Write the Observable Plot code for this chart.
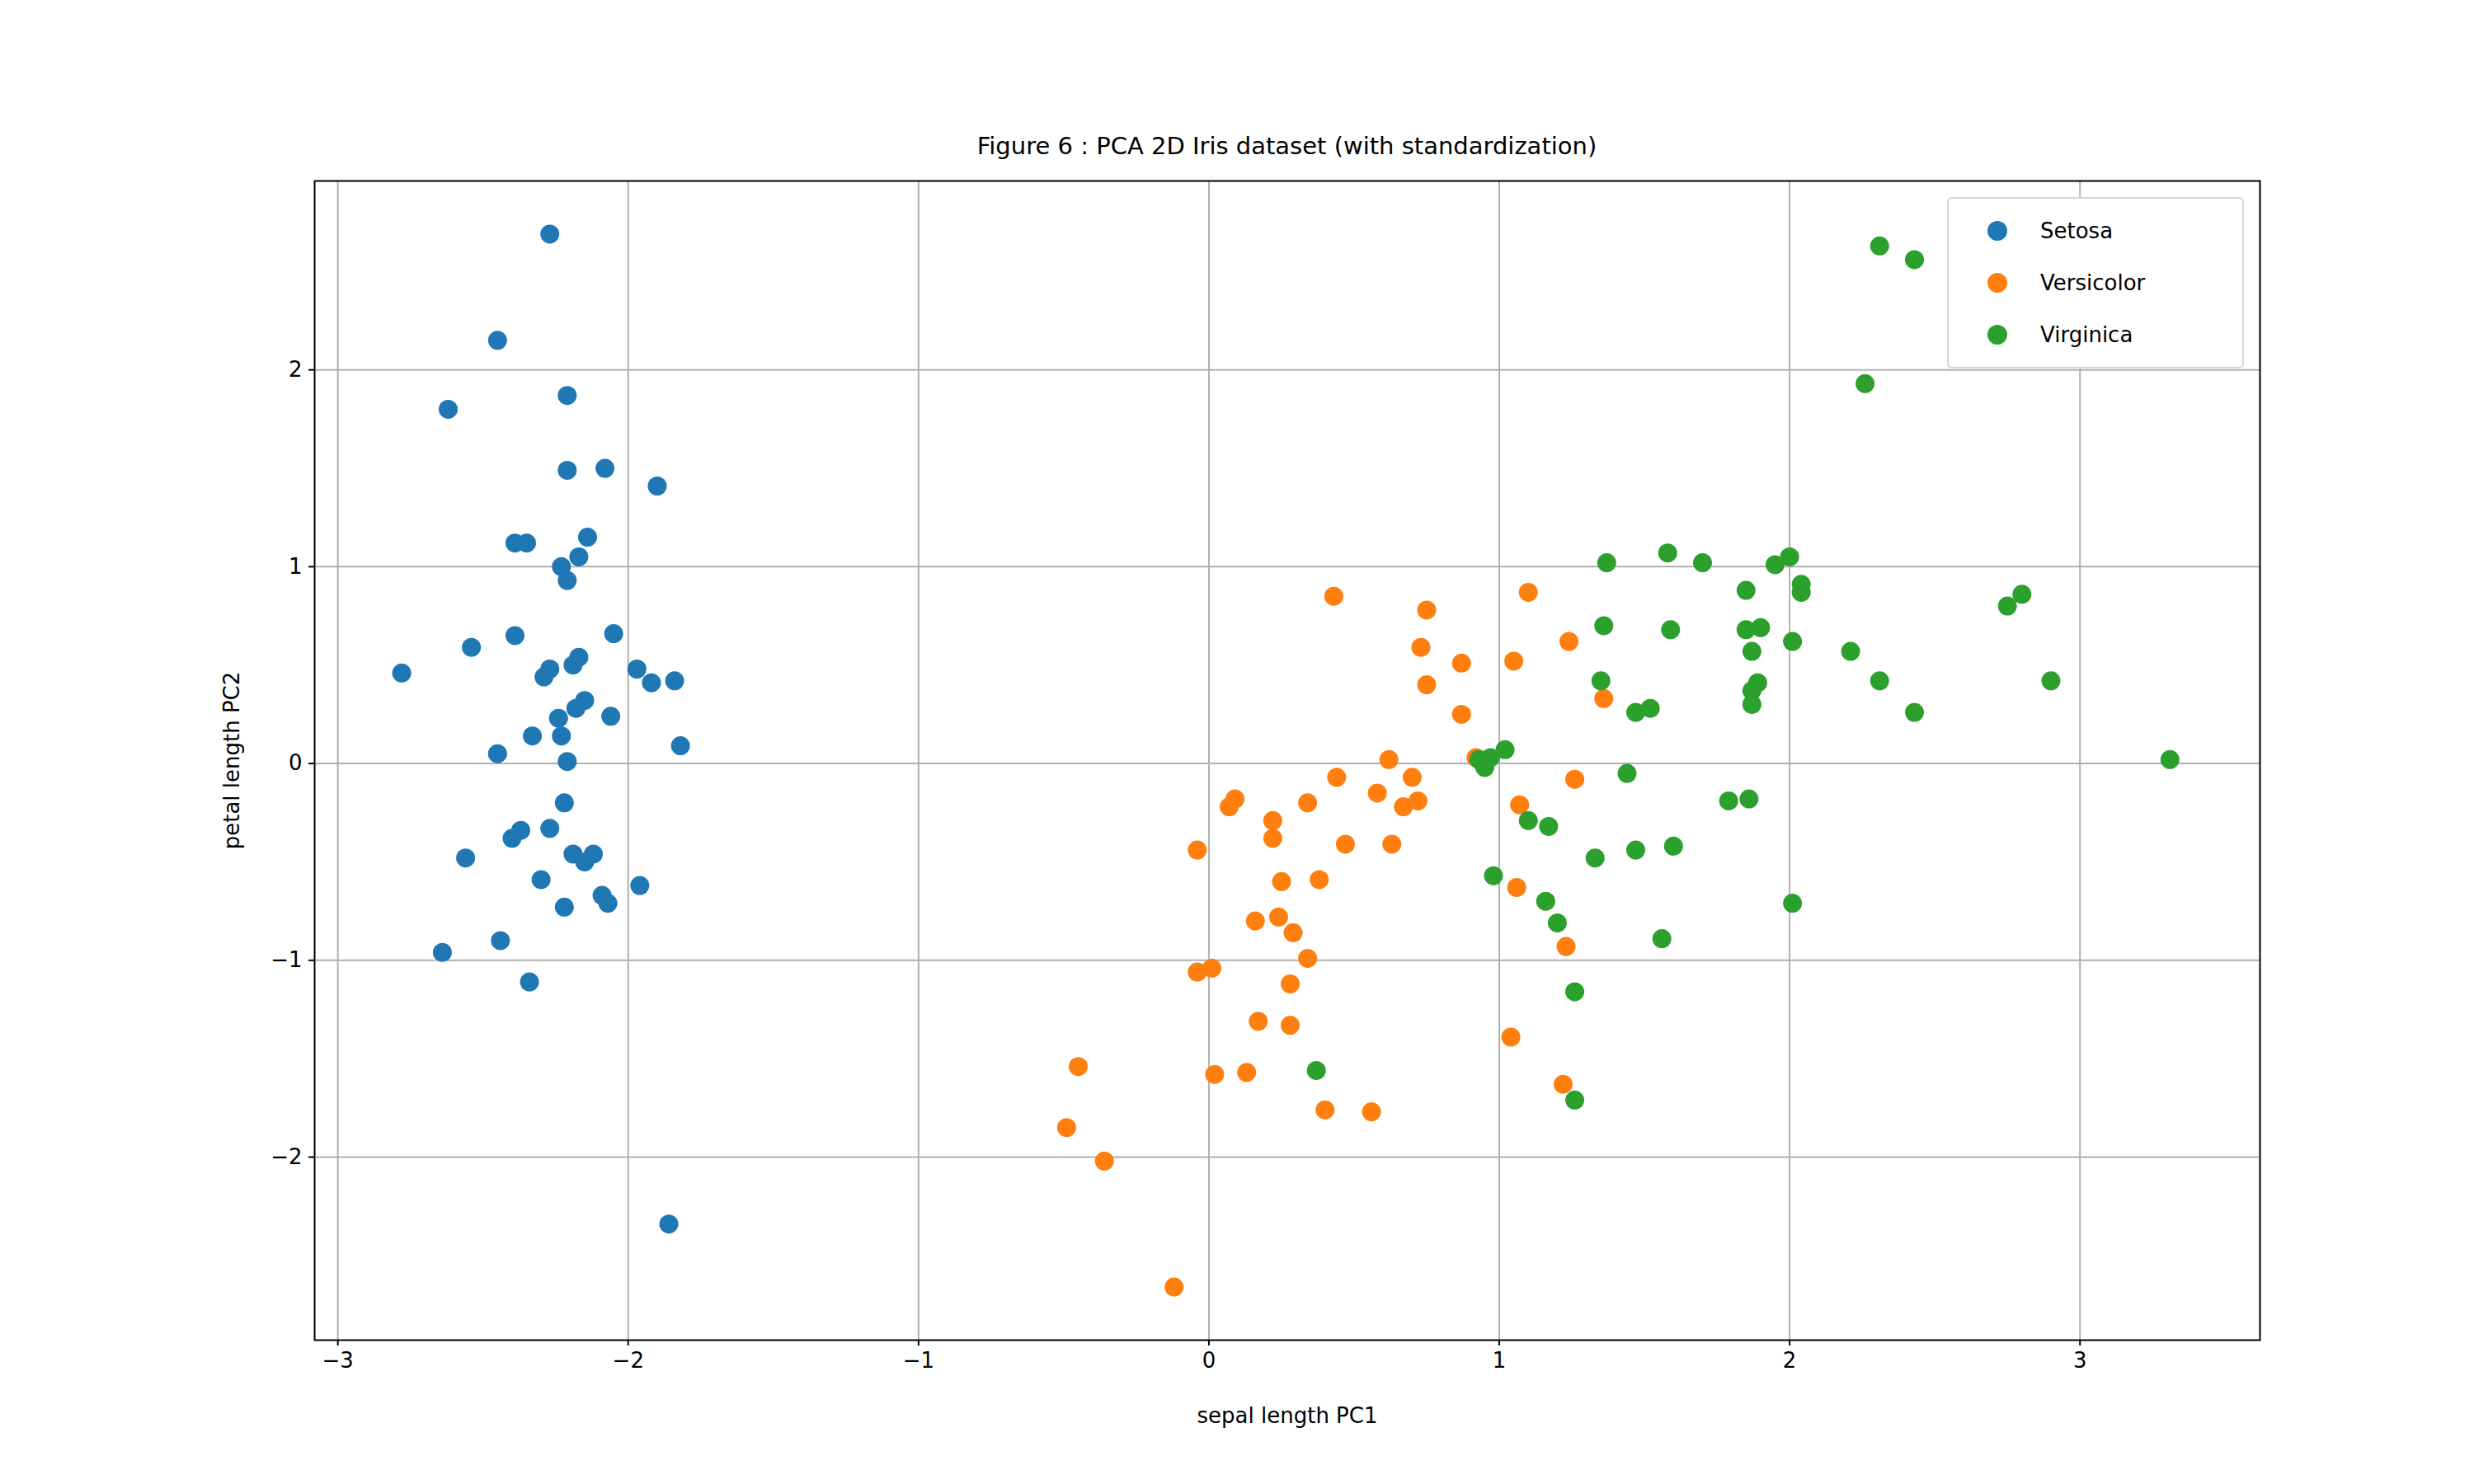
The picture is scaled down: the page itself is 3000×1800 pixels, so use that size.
<!DOCTYPE html>
<html>
<head>
<meta charset="utf-8">
<script src="https://cdn.jsdelivr.net/npm/d3@7"></script>
<script src="https://cdn.jsdelivr.net/npm/@observablehq/plot@0.6"></script>
<style>
  body { margin: 0; background: #fff; font-family: "DejaVu Sans", sans-serif; }
  #wrap { position: relative; width: 3000px; height: 1800px; }
  #title { height: 150px; font-size: 29px; }
  #title span { position: absolute; top: 177px; left: 381px; width: 2359px; transform: translateY(-50%); text-align: center; }
  #legend { position: absolute; left: 2361px; top: 239px; width: 356px; height: 204px; border: 2px solid #d6d6d6; border-radius: 6px; background: #fff; font-size: 26px; }
  .row { position: absolute; left: 0; height: 30px; display: flex; align-items: center; }
  .sw { width: 24px; height: 24px; border-radius: 50%; margin-left: 47px; margin-right: 40px; }
</style>
</head>
<body>
<div id="wrap">
  <div id="title"><span>Figure 6 : PCA 2D Iris dataset (with standardization)</span></div>
  <div id="chart"></div>
  <div id="legend"></div>
</div>
<script>
const species = ['Setosa', 'Versicolor', 'Virginica']
const colors = ['#1f77b4', '#ff7f0e', '#2ca02c']
const xTicks = [-3, -2, -1, 0, 1, 2, 3]
const yTicks = [-2, -1, 0, 1, 2]

const setosa = [
  [-2.78,0.46],[-2.62,1.80],[-2.45,2.15],[-2.27,2.69],[-2.21,1.87],[-2.21,1.49],[-2.08,1.50],[-1.90,1.41],
  [-2.39,1.12],[-2.35,1.12],[-2.14,1.15],[-2.17,1.05],[-2.23,1.00],[-2.21,0.93],[-2.05,0.66],[-2.39,0.65],
  [-2.54,0.59],[-2.27,0.48],[-2.29,0.44],[-2.17,0.54],[-2.19,0.50],[-1.97,0.48],[-1.92,0.41],[-1.84,0.42],
  [-2.15,0.32],[-2.18,0.28],[-2.24,0.23],[-2.23,0.14],[-2.06,0.24],[-2.33,0.14],[-2.45,0.05],[-2.21,0.01],
  [-1.82,0.09],[-2.22,-0.20],[-2.37,-0.34],[-2.40,-0.38],[-2.27,-0.33],[-2.56,-0.48],[-2.19,-0.46],
  [-2.12,-0.46],[-2.15,-0.50],[-2.30,-0.59],[-1.96,-0.62],[-2.09,-0.67],[-2.07,-0.71],[-2.22,-0.73],
  [-2.44,-0.90],[-2.64,-0.96],[-2.34,-1.11],[-1.86,-2.34]
]
const versicolor = [
  [0.43,0.85],[0.75,0.78],[1.10,0.87],[0.73,0.59],[0.87,0.51],[1.05,0.52],[1.24,0.62],[0.75,0.40],
  [0.87,0.25],[1.36,0.33],[0.62,0.02],[0.92,0.03],[0.44,-0.07],[0.70,-0.07],[0.58,-0.15],[0.72,-0.19],
  [0.67,-0.22],[0.34,-0.20],[0.09,-0.18],[0.07,-0.22],[0.22,-0.29],[0.22,-0.38],[1.07,-0.21],[1.26,-0.08],
  [0.47,-0.41],[0.63,-0.41],[-0.04,-0.44],[0.25,-0.60],[0.38,-0.59],[1.06,-0.63],[0.16,-0.80],[0.24,-0.78],
  [0.29,-0.86],[0.34,-0.99],[1.23,-0.93],[-0.04,-1.06],[0.01,-1.04],[0.28,-1.12],[0.17,-1.31],[0.28,-1.33],
  [1.04,-1.39],[-0.45,-1.54],[0.02,-1.58],[0.13,-1.57],[1.22,-1.63],[0.40,-1.76],[0.56,-1.77],[-0.49,-1.85],
  [-0.36,-2.02],[-0.12,-2.66]
]
const virginica = [
  [2.31,2.63],[2.43,2.56],[2.26,1.93],[1.58,1.07],[1.37,1.02],[1.70,1.02],[2.00,1.05],[1.95,1.01],
  [2.04,0.91],[2.04,0.87],[1.85,0.88],[2.75,0.80],[2.80,0.86],[1.36,0.70],[1.59,0.68],[1.85,0.68],
  [1.90,0.69],[1.87,0.57],[2.01,0.62],[2.21,0.57],[1.35,0.42],[1.89,0.41],[1.87,0.37],[1.87,0.30],
  [2.31,0.42],[2.90,0.42],[1.47,0.26],[1.52,0.28],[2.43,0.26],[3.31,0.02],[0.97,0.03],[0.93,0.02],
  [1.02,0.07],[0.95,-0.02],[1.44,-0.05],[1.79,-0.19],[1.86,-0.18],[1.10,-0.29],[1.17,-0.32],[1.60,-0.42],
  [1.47,-0.44],[1.33,-0.48],[0.98,-0.57],[1.16,-0.70],[1.20,-0.81],[2.01,-0.71],[1.56,-0.89],[1.26,-1.16],
  [0.37,-1.56],[1.26,-1.71]
]

const groups = [setosa, versicolor, virginica]
const data = groups.flatMap((g, i) => g.map(([x, y]) => ({x, y, species: species[i]})))

const chart = Plot.plot({
  width: 3000,
  height: 1650,
  marginLeft: 381,
  marginRight: 260,
  marginTop: 69,
  marginBottom: 175,
  style: {fontSize: '26px', fontFamily: '"DejaVu Sans", sans-serif', color: '#000'},
  x: {domain: [-3.08, 3.62]},
  y: {domain: [-2.93, 2.96]},
  color: {domain: species, range: colors},
  marks: [
    Plot.gridX({ticks: xTicks, stroke: '#b0b0b0', strokeOpacity: 1, strokeWidth: 2}),
    Plot.gridY({ticks: yTicks, stroke: '#b0b0b0', strokeOpacity: 1, strokeWidth: 2}),
    Plot.axisX({ticks: xTicks, tickFormat: 'd', strokeWidth: 2, tickSize: 7, tickPadding: 8,
      label: 'sepal length PC1', labelAnchor: 'center', labelArrow: 'none', labelOffset: 100}),
    Plot.axisY({ticks: yTicks, tickFormat: 'd', strokeWidth: 2, tickSize: 7, tickPadding: 8,
      label: 'petal length PC2', labelAnchor: 'center', labelArrow: 'none', labelOffset: 110}),
    Plot.dot(data, {x: 'x', y: 'y', fill: 'species', r: 11.5}),
    Plot.frame({stroke: '#000', strokeWidth: 2})
  ]
})
d3.select('#chart').append(() => chart)

const legend = d3.select('#legend')
species.forEach((s, i) => {
  const row = legend.append('div').attr('class', 'row').style('top', (24 + i * 63) + 'px')
  row.append('div').attr('class', 'sw').style('background', colors[i])
  row.append('span').text(s)
})
</script>
</body>
</html>
